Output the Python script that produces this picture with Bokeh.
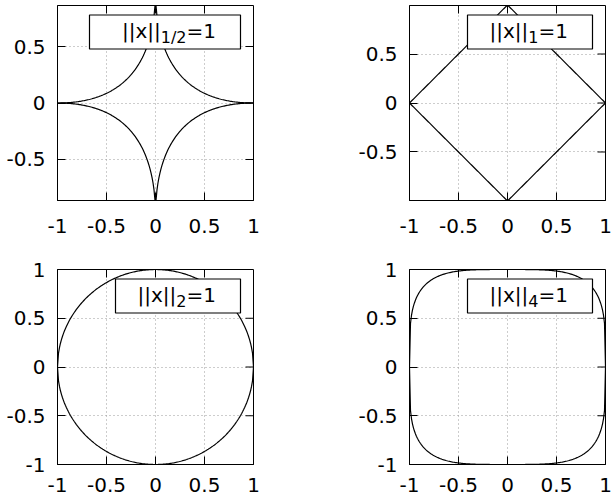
import numpy as np
from bokeh.plotting import figure
from bokeh.layouts import column, row
from bokeh.models import Range1d, FixedTicker, Label, ColumnDataSource
from bokeh.embed import file_html
from bokeh.resources import INLINE

# Unit balls ||x||_p = 1 for these exponents, one panel each
P_NORMS = [0.5, 1, 2, 4]
KEY_SUBSCRIPTS = ["1/2", "1", "2", "4"]
N_SAMPLES = 200

TICK_VALUES = [-1.0, -0.5, 0.0, 0.5, 1.0]
TICK_LABELS = ["-1", "-0.5", "0", "0.5", "1"]
GRID_VALUES = [-0.5, 0.0, 0.5]

FONT = "DejaVu Sans"
MAIN_PX = 20
SUB_PX = 16
FRAME_W, FRAME_H = 196, 195
TICK_LEN = 8

# key box width (px) per panel
KEY_BOX_W = [151, 125, 125, 125]

# (left, right, top, bottom) borders and x tick label standoff per panel
BORDERS = [(57, 53, 5, 50), (103, 7, 5, 50), (57, 53, 19, 36), (103, 7, 19, 36)]
X_STANDOFF = [18, 18, 13, 13]

# DejaVu Sans advance widths in em, for laying out the key text
ADVANCE = {"|": 0.337, "x": 0.592, "=": 0.838, "1": 0.636, "2": 0.636,
           "4": 0.636, "/": 0.337}


def text_width(s, px):
    return sum(ADVANCE[c] for c in s) * px


def unit_ball(p):
    x = np.linspace(-1.0, 1.0, N_SAMPLES)
    y = np.clip(1.0 - np.abs(x) ** p, 0.0, None) ** (1.0 / p)
    return x, y


def style_axis(ax, standoff):
    ax.ticker = FixedTicker(ticks=TICK_VALUES)
    ax.major_tick_in = TICK_LEN
    ax.major_tick_out = 0
    ax.minor_tick_in = 0
    ax.minor_tick_out = 0
    ax.major_tick_line_color = "black"
    ax.axis_line_color = "black"
    ax.axis_line_width = 1
    ax.major_label_overrides = dict(zip(TICK_VALUES, TICK_LABELS))
    ax.major_label_text_font = FONT
    ax.major_label_text_font_size = f"{MAIN_PX}px"
    ax.major_label_text_color = "black"
    ax.major_label_standoff = standoff


def panel(i):
    p_val = P_NORMS[i]
    x, y = unit_ball(p_val)
    ymax = round(float(y.max()), 3)
    left, right, top, bottom = BORDERS[i]

    fig = figure(frame_width=FRAME_W, frame_height=FRAME_H,
                 x_range=Range1d(-1.0, 1.0), y_range=Range1d(-ymax, ymax),
                 min_border_left=left, min_border_right=right,
                 min_border_top=top, min_border_bottom=bottom,
                 output_backend="svg", toolbar_location=None)
    fig.outline_line_color = "black"
    fig.outline_line_width = 1
    fig.background_fill_color = "white"
    fig.border_fill_color = "white"

    for ax in fig.xaxis:
        style_axis(ax, X_STANDOFF[i])
    for ax in fig.yaxis:
        style_axis(ax, 12)

    for g in (fig.xgrid, fig.ygrid):
        g.ticker = FixedTicker(ticks=GRID_VALUES)
        g.grid_line_color = "#9a9a9a"
        g.grid_line_dash = "1 3"
        g.grid_line_width = 1

    # pixel -> data conversions inside the frame
    sx = 2.0 / FRAME_W
    sy = 2.0 * ymax / FRAME_H

    # mirrored inward ticks on the top and right edges
    tx = [t for t in TICK_VALUES if -1.0 < t < 1.0]
    ty = [t for t in TICK_VALUES if -ymax < t < ymax]
    fig.segment(x0=tx, x1=tx, y0=[ymax] * len(tx), y1=[ymax - TICK_LEN * sy] * len(tx),
                line_color="black", line_width=1)
    fig.segment(x0=[1.0] * len(ty), x1=[1.0 - TICK_LEN * sx] * len(ty), y0=ty, y1=ty,
                line_color="black", line_width=1)

    src = ColumnDataSource(dict(x=x, upper=y, lower=-y))
    fig.line("x", "upper", source=src, line_color="black", line_width=1.2)
    fig.line("x", "lower", source=src, line_color="black", line_width=1.2)

    # key box, drawn over the curves
    box_right = 13
    fig.quad(left=[1.0 - (box_right + KEY_BOX_W[i]) * sx], right=[1.0 - box_right * sx],
             top=[ymax - 9.5 * sy], bottom=[ymax - 43.5 * sy],
             fill_color="white", fill_alpha=1.0, line_color="black", line_width=1.2,
             level="annotation")

    sub = KEY_SUBSCRIPTS[i]
    end_x = 1.0 - 37.5 * sx
    main_y = ymax - 25.5 * sy
    sub_y = ymax - 31.5 * sy
    sub_x = end_x - text_width("=1", MAIN_PX) * sx
    head_x = sub_x - text_width(sub, SUB_PX) * sx
    for txt, lx, ly, size in (("=1", end_x, main_y, MAIN_PX),
                              (sub, sub_x, sub_y, SUB_PX),
                              ("||x||", head_x, main_y, MAIN_PX)):
        fig.add_layout(Label(x=lx, y=ly, text=txt, text_align="right",
                             text_baseline="middle", text_font=FONT,
                             text_font_size=f"{size}px", text_color="black"))
    return fig


figs = [panel(i) for i in range(4)]
layout = column(row(figs[0], figs[1]), row(figs[2], figs[3]))

with open("out.html", "w") as f:
    f.write(file_html(layout, INLINE))
